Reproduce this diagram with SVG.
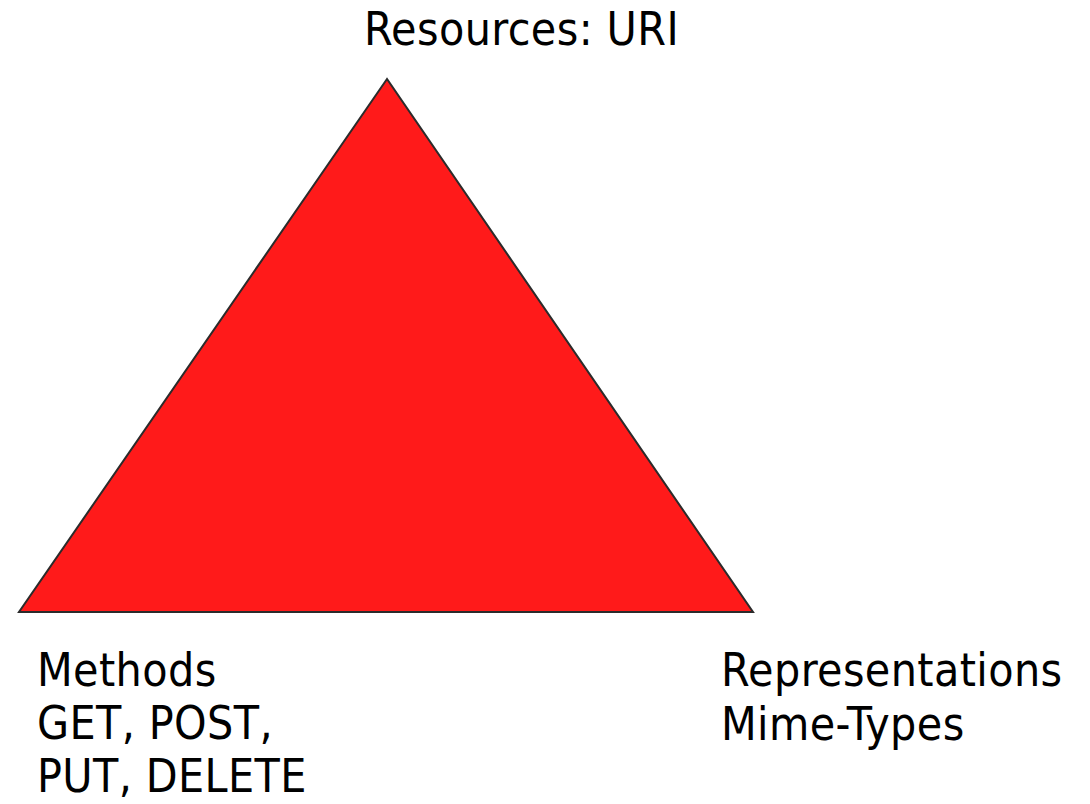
<svg xmlns="http://www.w3.org/2000/svg" width="1090" height="804" viewBox="0 0 1090 804">
<style>
.lbl{font-family:"DejaVu Sans Condensed","DejaVu Sans","Liberation Sans",sans-serif;font-stretch:condensed;font-size:46px;letter-spacing:0.4px;fill:#000}
.tri{fill:#FF1A1A;stroke:#2b2b2b;stroke-width:2;stroke-linejoin:miter}
</style>
<rect width="1090" height="804" fill="#fff"/>
<g id="triangle"><polygon class="tri" points="387,79 19,612 753,612"/></g>
<g id="resources"><text class="lbl" x="364" y="45">Resources: URI</text></g>
<g id="methods"><text class="lbl" x="37" y="686">Methods</text><text class="lbl" x="37" y="739">GET, POST,</text><text class="lbl" x="37" y="792">PUT, DELETE</text></g>
<g id="representations"><text class="lbl" x="721" y="686">Representations</text><text class="lbl" x="721" y="740">Mime-Types</text></g>
<g id="connectors"></g>
</svg>
